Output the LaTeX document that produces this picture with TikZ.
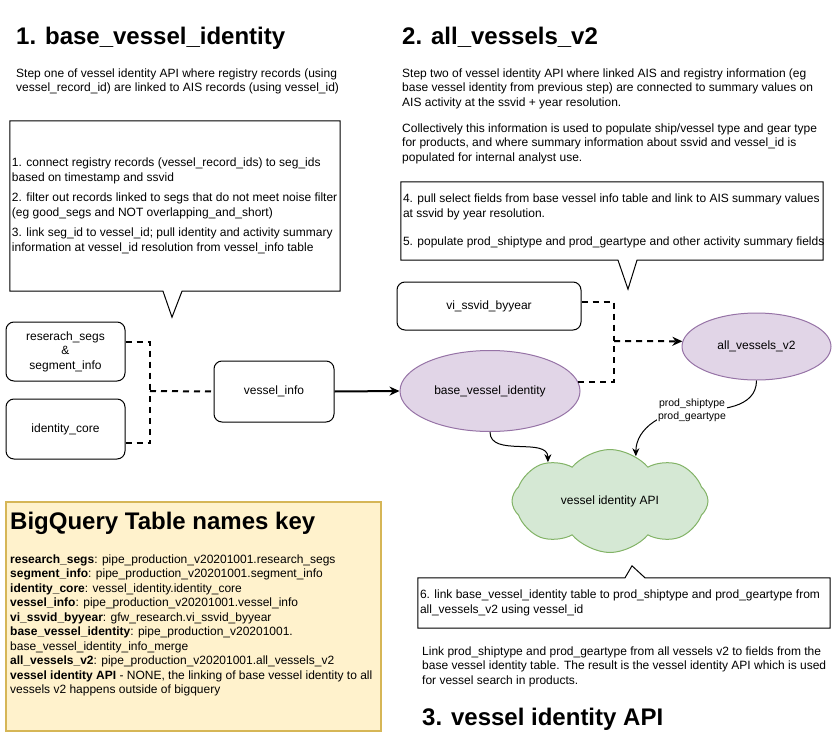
\documentclass[tikz,border=0pt]{standalone}
\usepackage{fontspec}
\setmainfont{Liberation Sans}
\usepackage{xcolor}
\usepackage{tikz}
\usetikzlibrary{positioning,arrows.meta,shapes.geometric,shapes.symbols}
\definecolor{stagefill}{HTML}{E1D5E7}
\definecolor{stageline}{HTML}{9673A6}
\definecolor{apifill}{HTML}{D5E8D4}
\definecolor{apiline}{HTML}{82B366}
\definecolor{keyfill}{HTML}{FFF2CC}
\definecolor{keyline}{HTML}{D6B656}
\newcommand{\bodyfont}{\fontsize{12}{14.5}\selectfont}
\newcommand{\headfont}{\fontsize{24}{28}\selectfont\bfseries}

\begin{document}
\begin{tikzpicture}[x=1pt, y=-1pt,
  every node/.style={font=\bodyfont},
  heading/.style={anchor=base west, inner sep=0pt, font=\headfont},
  para/.style={anchor=north west, inner sep=0pt, align=left},
  tbl/.style={draw, rounded corners=8pt, line width=1pt, fill=white, align=center},
  stage/.style={ellipse, draw=stageline, fill=stagefill, line width=1pt, inner sep=0pt},
  notebox/.style={inner sep=0pt},
  callout/.style={draw, line width=1pt, fill=white},
  dline/.style={dash pattern=on 6pt off 5pt, line width=2pt},
  flow/.style={line width=2pt, -{Stealth[length=10pt,width=9pt]}},
  link/.style={line width=1pt, -{Stealth[length=8pt,width=7pt]}},
  edgelabel/.style={fill=white, inner sep=1pt, align=center, font=\fontsize{10.5}{13}\selectfont}
]
  \useasboundingbox (0,0) rectangle (836,755);

  % headings and running text
  \node[heading] (head1) at (16,44) {1. base\_vessel\_identity};
  \node[heading] (head2) at (402,44) {2. all\_vessels\_v2};
  \node[heading] (head3) at (422,725) {3. vessel identity API};
  \node[para] (intro1) at (16,68.5) {Step one of vessel identity API where registry records (using\\vessel\_record\_id) are linked to AIS records (using vessel\_id)};
  \node[para] (intro2) at (402,68.5) {Step two of vessel identity API where linked AIS and registry information (eg\\base vessel identity from previous step) are connected to summary values on\\AIS activity at the ssvid + year resolution.};
  \node[para] (intro2b) at (402,123.5) {Collectively this information is used to populate ship/vessel type and gear type\\for products, and where summary information about ssvid and vessel\_id is\\populated for internal analyst use.};
  \node[para] (outro3) at (422,646.5) {Link prod\_shiptype and prod\_geartype from all vessels v2 to fields from the\\base vessel identity table. The result is the vessel identity API which is used\\for vessel search in products.};

  % callouts
  \node[notebox, minimum width=330pt, minimum height=170pt] (note1) at (175,206) {};
  \draw[callout] (note1.north west) -- (note1.north east) -- (note1.south east)
    -- ([xshift=7pt]note1.south) -- ([xshift=-3pt,yshift=-26pt]note1.south)
    -- ([xshift=-12pt]note1.south) -- (note1.south west) -- cycle;
  \node[para, right=2pt of note1.west] (note1txt) {1. connect registry records (vessel\_record\_ids) to seg\_ids\\based on timestamp and ssvid\\[6pt]2. filter out records linked to segs that do not meet noise filter\\(eg good\_segs and NOT overlapping\_and\_short)\\[6pt]3. link seg\_id to vessel\_id; pull identity and activity summary\\information at vessel\_id resolution from vessel\_info table};

  \node[notebox, minimum width=422pt, minimum height=78pt] (note2) at (612,221) {};
  \draw[callout] (note2.north west) -- (note2.north east) -- (note2.south east)
    -- ([xshift=25pt]note2.south) -- ([xshift=16pt,yshift=-29pt]note2.south)
    -- ([xshift=6pt]note2.south) -- (note2.south west) -- cycle;
  \node[para, right=2pt of note2.west] (note2txt) {4. pull select fields from base vessel info table and link to AIS summary values\\at ssvid by year resolution.\\[14pt]5. populate prod\_shiptype and prod\_geartype and other activity summary fields};

  \node[notebox, minimum width=412pt, minimum height=50pt] (note3) at (624,603) {};
  \draw[callout] (note3.south west) -- (note3.south east) -- (note3.north east)
    -- ([xshift=21pt]note3.north) -- ([xshift=8pt,yshift=12pt]note3.north)
    -- ([xshift=1pt]note3.north) -- (note3.north west) -- cycle;
  \node[para, right=2pt of note3.west] (note3txt) {6. link base\_vessel\_identity table to prod\_shiptype and prod\_geartype from\\all\_vessels\_v2 using vessel\_id};

  % tables
  \node[tbl, minimum width=119pt, minimum height=59pt] (segs) at (65.5,351.5) {reserach\_segs\\\&\\segment\_info};
  \node[tbl, minimum width=119pt, minimum height=60pt, below=17pt of segs] (core) {identity\_core};
  \node[tbl, minimum width=120pt, minimum height=61pt] (vinfo) at (274,391.5) {vessel\_info};
  \node[tbl, minimum width=184pt, minimum height=48pt] (byyear) at (489,306) {vi\_ssvid\_byyear};

  % stages
  \node[stage, minimum width=180pt, minimum height=81pt] (bvi) at (490,391) {base\_vessel\_identity};
  \node[stage, minimum width=149pt, minimum height=67pt] (av) at (756.5,346.5) {all\_vessels\_v2};
  \node[cloud, cloud puffs=8, cloud puff arc=100, cloud ignores aspect, draw=apiline, fill=apifill,
    line width=1pt, minimum width=196pt, minimum height=103pt] (api) at (610,501) {vessel identity API};

  % connectors
  \coordinate (jl) at (150,391);
  \draw[dline] ([yshift=9.5pt]segs.east) -| (jl);
  \draw[dline] ([yshift=-14pt]core.east) -| (jl);
  \draw[dline] (jl) -- (vinfo.west);
  \draw[flow] (vinfo.east) -- (bvi.west);

  \coordinate (jr) at (614,341);
  \draw[dline] ([yshift=4pt]byyear.east) -| (jr);
  \draw[dline] (bvi.6.5) -| (jr);
  \draw[dline, -{Stealth[length=10pt,width=9pt]}] (jr) -- (av.176);

  \draw[link] (bvi.south) to[out=-90,in=90] (api.148);
  \coordinate (lblpt) at (692,410.5);
  \draw[link] (av.south) to[out=-90,in=0] (lblpt) to[out=180,in=90] (api.60);
  \node[edgelabel] (typelbl) at (lblpt) {prod\_shiptype\\prod\_geartype};

  % key
  \node[draw=keyline, fill=keyfill, line width=1.5pt, minimum width=375pt, minimum height=229pt, inner sep=0pt] (key) at (193.5,616.5) {};
  \node[heading] (keyhead) at (10,529) {BigQuery Table names key};
  \node[para] (keylist) at (10,554.5) {\textbf{research\_segs}: pipe\_production\_v20201001.research\_segs\\
    \textbf{segment\_info}: pipe\_production\_v20201001.segment\_info\\
    \textbf{identity\_core}: vessel\_identity.identity\_core\\
    \textbf{vessel\_info}: pipe\_production\_v20201001.vessel\_info\\
    \textbf{vi\_ssvid\_byyear}: gfw\_research.vi\_ssvid\_byyear\\
    \textbf{base\_vessel\_identity}: pipe\_production\_v20201001.\\
    base\_vessel\_identity\_info\_merge\\
    \textbf{all\_vessels\_v2}: pipe\_production\_v20201001.all\_vessels\_v2\\
    \textbf{vessel identity API} - NONE, the linking of base vessel identity to all\\
    vessels v2 happens outside of bigquery};
\end{tikzpicture}
\end{document}
